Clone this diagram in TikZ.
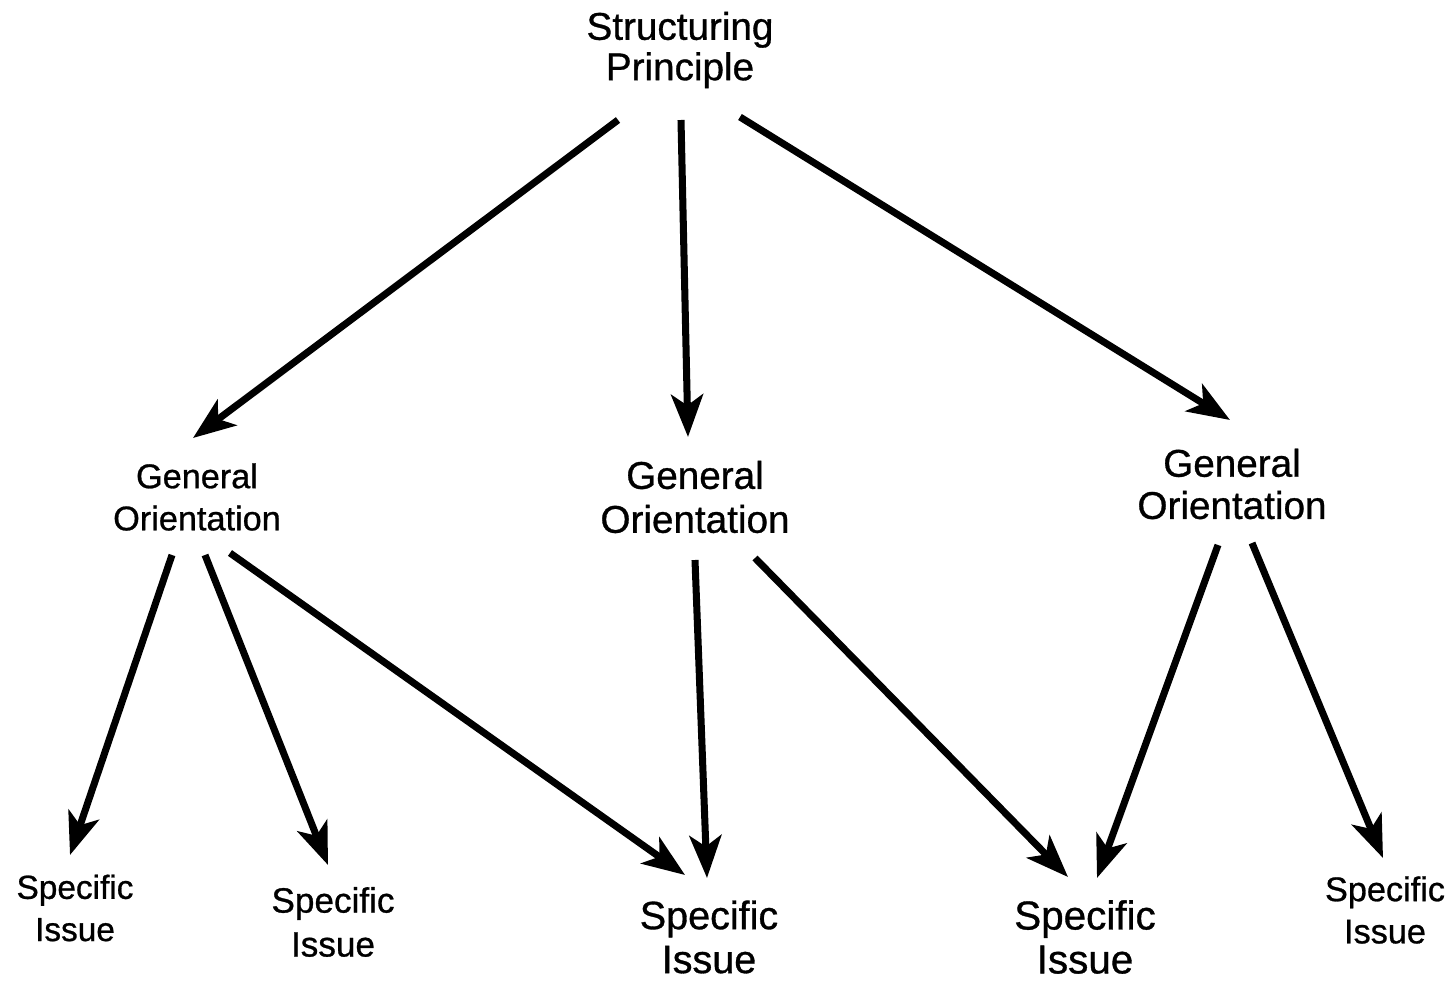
\documentclass[tikz,border=0pt]{standalone}
\usepackage{fontspec}
\setmainfont{Liberation Sans}[FakeBold=0.8]
\usetikzlibrary{calc,arrows.meta}
\tikzset{
	lbl/.style 2 args={align=center, inner sep=0pt, font=\fontsize{#1}{#2}\selectfont},
	arr/.style={line width=4pt, -{Stealth[length=0.85cm,width=0.64cm,inset=0.22cm]}}
}

\begin{document}
\begin{tikzpicture}[x=0.02cm, y=-0.02cm]
		%%%%% START %%%%%
		\useasboundingbox (0, 0) rectangle (1455, 983);
		
		\node[lbl={22}{23}] (sp) at (680, 50) {Structuring\\Principle};
		
		\node[lbl={19.5}{24}] (go1) at (197, 497) {General\\Orientation};
		\node[lbl={22}{25}] (go2) at (695, 497) {General\\Orientation};
		\node[lbl={22}{24}] (go3) at (1232, 484) {General\\Orientation};
		
		\node[lbl={19}{24}] (si1) at (75, 908) {Specific\\Issue};
		\node[lbl={20}{25}] (si2) at (333, 922) {Specific\\Issue};
		\node[lbl={22.5}{25}] (si3) at (709, 937) {Specific\\Issue};
		\node[lbl={23}{25}] (si4) at (1085, 937) {Specific\\Issue};
		\node[lbl={19.5}{24}] (si5) at (1385, 910) {Specific\\Issue};
		
		\draw[arr] ($(sp)+(-62, 70)$) -- ($(go1)+(-4, -59)$);
		\draw[arr] ($(sp)+(1, 70)$) -- ($(go2)+(-7, -60)$);
		\draw[arr] ($(sp)+(60, 67)$) -- ($(go3)+(-2, -64)$);
		
		\draw[arr] ($(go1)+(-25, 58)$) -- ($(si1)+(-5, -53)$);
		\draw[arr] ($(go1)+(8, 58)$) -- ($(si2)+(-5, -57)$);
		\draw[arr] ($(go1)+(33, 56)$) -- ($(si3)+(-24, -62)$);
		
		\draw[arr] ($(go2)+(0, 63)$) -- ($(si3)+(-2, -59)$);
		\draw[arr] ($(go2)+(60, 61)$) -- ($(si4)+(-17, -60)$);
		
		\draw[arr] ($(go3)+(-14, 61)$) -- ($(si4)+(12, -59)$);
		\draw[arr] ($(go3)+(20, 59)$) -- ($(si5)+(-2, -52)$);
		
		%%%%% END %%%%%
\end{tikzpicture}
\end{document}
